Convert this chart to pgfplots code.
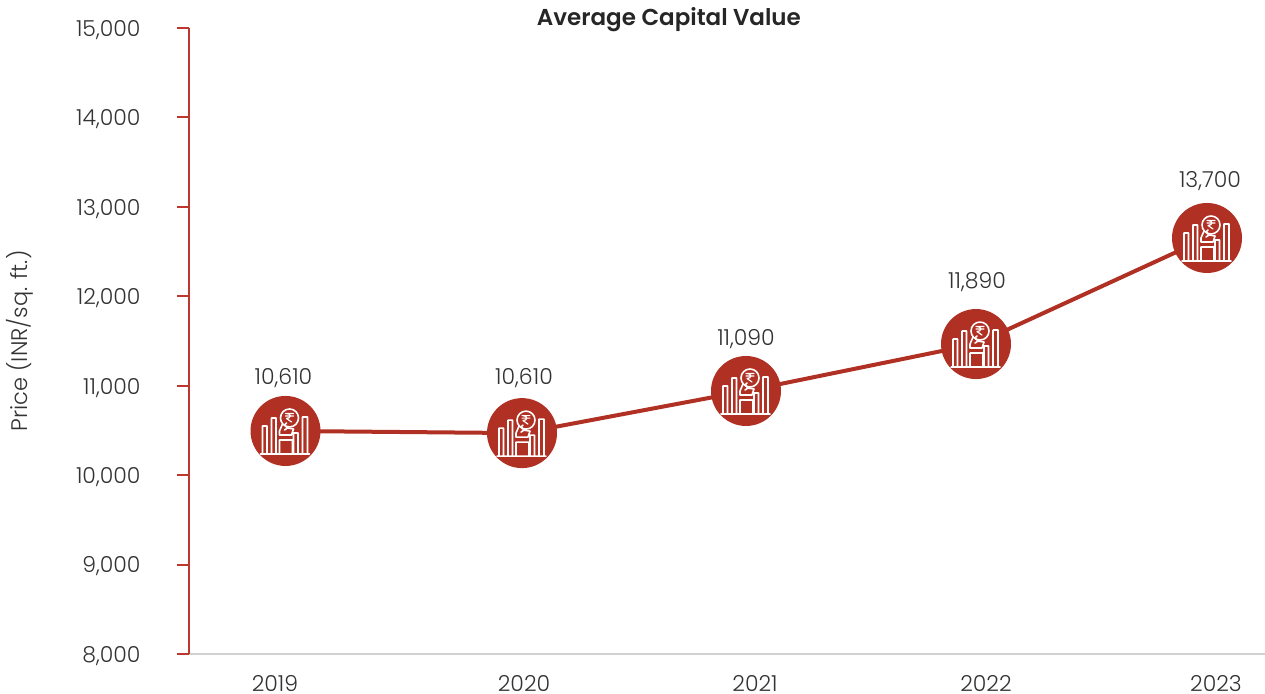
\documentclass[border=0pt]{standalone}
\usepackage{fontspec}
\setmainfont{Poppins Light}[BoldFont=Poppins SemiBold]
\usepackage{pgfplots}
\pgfplotsset{compat=1.18}
\usepgflibrary{svg.path}
\definecolor{cred}{HTML}{B03024}
\definecolor{caxis}{HTML}{BC372E}
\definecolor{ctxt}{HTML}{333333}
\pgfdeclareplotmark{rupeeicon}{%
  \pgfsetcolor{cred}\pgfsetlinewidth{0pt}%
  \pgfpathcircle{\pgfpointorigin}{35pt}\pgfusepath{fill}%
  \pgfsetcolor{white}\pgfsetlinewidth{1.6pt}\pgfsetroundjoin\pgfsetroundcap
  \pgfpathsvg{M -23 -23 L -23 5 L -18.5 5 L -18.5 -23 M -14 -23 L -14 13 L -9.5 13 L -9.5 -23 M 8 -23 L 8 -2 L 12.5 -2 L 12.5 -23 M 17 -23 L 17 14 L 22 14 L 22 -23 M -25 -23 L 24 -23 M -6 -23 L -6 -9 L 7 -9 L 7 -23 M -6 -4 L -6 0 L -3 7 M -6 -4 L 6 -4 L 8 2 L 2 3 L -1 1 M 2 3 L -1 6 L 1 8}%
  \pgfusepath{stroke}%
  \pgfpathcircle{\pgfqpoint{4pt}{13pt}}{9pt}\pgfusepath{stroke}%
  \pgfsetlinewidth{1.2pt}%
  \pgfpathsvg{M 0 17.5 L 8 17.5 M 0 15 L 8 15 M 1 17.5 C 6 17.5 6 12.5 1 12.5 L 6 9}%
  \pgfusepath{stroke}%
}
\begin{document}
\begin{tikzpicture}[x=1pt,y=1pt]
\path[use as bounding box] (0,0) rectangle (1265,693);
\begin{axis}[
  at={(189pt,39pt)}, anchor=origin,
  scale only axis, width=1076pt, height=626pt,
  xmin=189, xmax=1265, ymin=8000, ymax=15000,
  clip=false,
  axis x line=bottom, axis y line=left,
  axis line style={-},
  x axis line style={draw=black!18,line width=1.5pt},
  y axis line style={draw=caxis,line width=2pt},
  xtick={275,524,755,986,1216},
  xticklabels={2019,2020,2021,2022,2023},
  ytick={8000,9000,10000,11000,12000,13000,14000,15000},
  scaled y ticks=false,
  yticklabel={\pgfmathprintnumber[assume math mode=true,fixed,precision=0,1000 sep={,}]{\tick}},
  xtick style={draw=none},
  ytick style={draw=caxis,line width=2pt},
  tick align=outside,
  major tick length=12pt,
  tick label style={font=\fontsize{22}{24}\selectfont,text=ctxt},
  yticklabel style={xshift=-33pt,yshift=-2pt},
  xticklabel style={yshift=-6pt},
  ylabel={Price (INR/sq. ft.)},
  ylabel style={font=\fontsize{22.5}{26}\selectfont,text=ctxt,at={(axis description cs:-0.1570,0.5)},anchor=center},
  title={Average Capital Value},
  title style={font=\bfseries\fontsize{23}{27}\selectfont,text=black!85,at={(axis description cs:0.446,1.003)},anchor=center},
]
\addplot[cred,line width=4pt,mark=rupeeicon] coordinates {
 (285.5,10494) (522,10470) (746,10941) (976,11466) (1207,12652)};
\addplot[draw=none,mark=none,
  nodes near coords,point meta=explicit symbolic,
  nodes near coords align={center},
  every node near coord/.append style={font=\fontsize{22}{24}\selectfont,text=ctxt,inner sep=0pt,anchor=center}]
 coordinates {
 (283.5,11088)[10{,}610] (524,11088)[10{,}610] (746,11523)[11{,}090] (977,12158)[11{,}890] (1210,13288)[13{,}700]};
\end{axis}
\end{tikzpicture}
\end{document}
